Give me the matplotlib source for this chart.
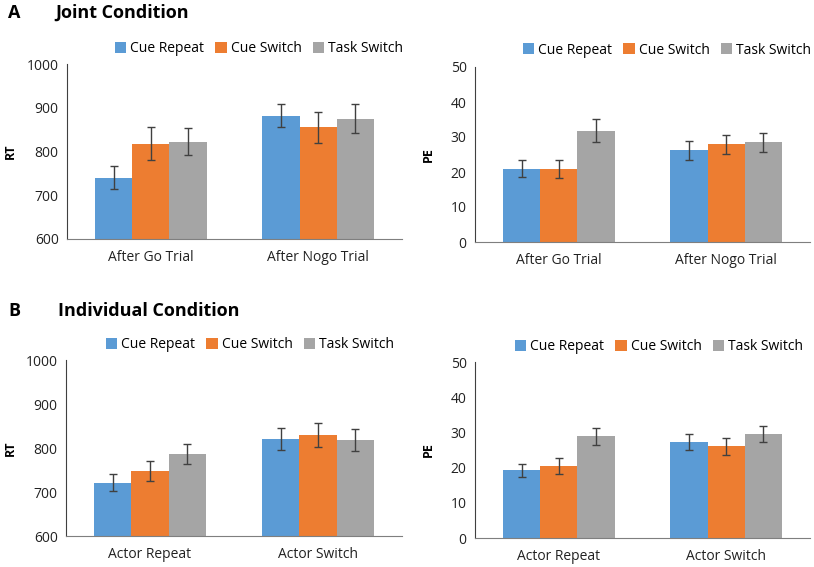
import matplotlib
matplotlib.use("Agg")
import matplotlib.pyplot as plt
import numpy as np

plt.rcParams['font.family'] = ['Open Sans', 'DejaVu Sans']

series = ['Cue Repeat', 'Cue Switch', 'Task Switch']
colors = ['#5B9BD5', '#ED7D31', '#A5A5A5']

joint_cats = ['After Go Trial', 'After Nogo Trial']
indiv_cats = ['Actor Repeat', 'Actor Switch']

# values [series][category]
joint_rt = [[740, 882], [818, 855], [822, 875]]
joint_rt_err = [[26, 27], [38, 36], [31, 33]]
joint_pe = [[21.0, 26.2], [20.8, 27.9], [31.8, 28.5]]
joint_pe_err = [[2.5, 2.7], [2.6, 2.7], [3.3, 2.7]]

indiv_rt = [[721, 820], [748, 830], [787, 818]]
indiv_rt_err = [[19, 25], [22, 27], [23, 25]]
indiv_pe = [[19.2, 27.3], [20.5, 26.0], [28.9, 29.6]]
indiv_pe_err = [[1.9, 2.2], [2.2, 2.5], [2.4, 2.3]]

W, H = 814, 567
fig = plt.figure(figsize=(W / 100, H / 100), dpi=100)


def px_axes(left, top, right, bottom):
    return fig.add_axes([left / W, 1 - bottom / H, (right - left) / W, (bottom - top) / H])


def draw_panel(ax, cats, vals, errs, ylim, yticks, ylabel, label_x, leg_x, leg_y):
    x = np.arange(len(cats))
    bw = 0.667 / 3
    for i, name in enumerate(series):
        ax.bar(x + (i - 1) * bw, vals[i], bw, color=colors[i], label=name,
               yerr=errs[i], error_kw=dict(ecolor='#404040', elinewidth=1, capsize=3, capthick=1))
    ax.set_xlim(-0.5, len(cats) - 0.5)
    ax.set_ylim(*ylim)
    ax.set_yticks(yticks)
    ax.set_xticks(x)
    ax.set_xticklabels(cats)
    ax.tick_params(length=0, labelsize=10, colors='#222222', pad=8)
    ax.tick_params(axis='y', pad=6)
    for s in ['top', 'right']:
        ax.spines[s].set_visible(False)
    ax.spines['left'].set_color('#404040')
    ax.spines['bottom'].set_color('#7f7f7f')
    ax.set_ylabel(ylabel, fontsize=9, fontweight='bold')
    pos = ax.get_position()
    ax.yaxis.set_label_coords((label_x / W - pos.x0) / pos.width, 0.5)
    ax.legend(loc='center', bbox_to_anchor=(leg_x / W, 1 - leg_y / H),
              bbox_transform=fig.transFigure, ncol=3, frameon=False, fontsize=10,
              handlelength=0.8, handleheight=0.8, handletextpad=0.3, columnspacing=0.8)


ax1 = px_axes(67, 64, 402, 239)
draw_panel(ax1, joint_cats, joint_rt, joint_rt_err, (600, 1000), [600, 700, 800, 900, 1000],
           'RT', 17, 259, 49)
ax2 = px_axes(475, 67, 810, 242)
draw_panel(ax2, joint_cats, joint_pe, joint_pe_err, (0, 50), [0, 10, 20, 30, 40, 50],
           'PE', 435, 667, 50)
ax3 = px_axes(66, 360, 402, 536)
draw_panel(ax3, indiv_cats, indiv_rt, indiv_rt_err, (600, 1000), [600, 700, 800, 900, 1000],
           'RT', 17, 250, 345)
ax4 = px_axes(475, 362, 810, 538)
draw_panel(ax4, indiv_cats, indiv_pe, indiv_pe_err, (0, 50), [0, 10, 20, 30, 40, 50],
           'PE', 435, 659, 347)

fig.text(8 / W, 1 - 13 / H, 'A', fontsize=13, fontweight='bold', va='center')
fig.text(55 / W, 1 - 13 / H, 'Joint Condition', fontsize=13, fontweight='bold', va='center')
fig.text(8 / W, 1 - 311 / H, 'B', fontsize=13, fontweight='bold', va='center')
fig.text(58 / W, 1 - 311 / H, 'Individual Condition', fontsize=13, fontweight='bold', va='center')

fig.savefig('out.png', dpi=100)
